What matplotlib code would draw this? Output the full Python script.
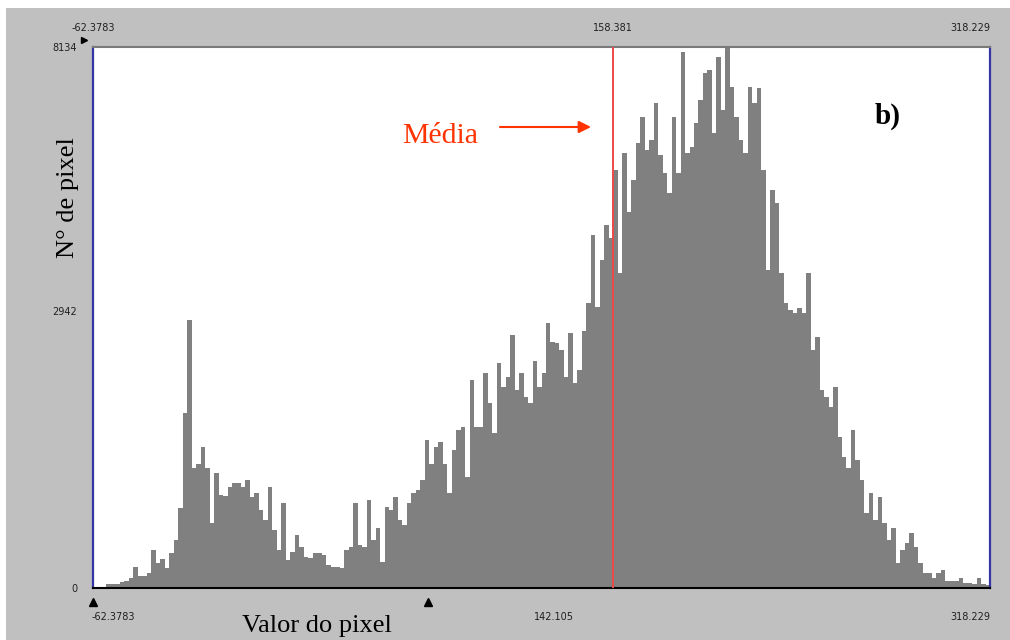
import numpy as np
import matplotlib
matplotlib.use("Agg")
import matplotlib.pyplot as plt
from matplotlib.patches import Rectangle

# ---------------- data ----------------
X_MIN = -62.3783
X_MAX = 318.229
MEAN = 158.381
Y_MAX = 8134
y_ticks = [0, 2942, 8134]
y_tick_labels = ["0", "2942", "8134"]
top_labels = ["-62.3783", "158.381", "318.229"]
bottom_labels = ["-62.3783", "142.105", "318.229"]
bottom_markers = [-62.3783, 79.8]

counts = [
    0, 0, 0, 5, 5, 5, 8, 10, 20, 60,
    25, 25, 35, 142, 75, 96, 53, 128, 206, 445,
    1460, 2790, 826, 870, 1055, 826, 324, 775, 560, 550,
    635, 670, 670, 635, 704, 540, 580, 430, 350, 635,
    275, 142, 488, 90, 135, 240, 160, 105, 100, 128,
    128, 115, 66, 58, 58, 54, 142, 160, 488, 172,
    160, 515, 206, 290, 80, 455, 430, 540, 350, 310,
    488, 580, 605, 704, 1135, 870, 1055, 1110, 870, 580,
    1020, 1250, 1290, 730, 1900, 1290, 1290, 2000, 1590, 1215,
    2145, 1810, 1945, 2565, 1765, 2000, 1670, 1590, 2180, 1810,
    2000, 2750, 2455, 2440, 2335, 1950, 2600, 1860, 2045, 2620,
    3075, 4250, 3000, 3800, 4440, 4200, 5500, 3570, 5840, 4680,
    5300, 6050, 6600, 5900, 6110, 6900, 5800, 5440, 5040, 6600,
    5440, 8020, 5840, 5960, 6470, 6950, 7550, 7610, 6250, 7900,
    6740, 8134, 7240, 6600, 6110, 5840, 7240, 6880, 7220, 5500,
    3630, 5100, 4850, 3570, 3075, 2960, 2905, 2990, 2905, 3570,
    2335, 2530, 1765, 1670, 1545, 1810, 1170, 940, 826, 1250,
    910, 704, 405, 580, 350, 540, 324, 206, 290, 75,
    142, 185, 255, 160, 75, 35, 35, 18, 35, 45,
    10, 10, 12, 18, 7, 7, 5, 20, 5, 3,
]

# ---------------- figure ----------------
W, H = 1010, 640
fig = plt.figure(figsize=(W / 100, H / 100), dpi=100, facecolor="white")
fig.patches.append(Rectangle((6 / W, 0), 1 - 6 / W, (H - 8) / H,
                             transform=fig.transFigure, facecolor="#c0c0c0",
                             edgecolor="none", zorder=-1))

ax = fig.add_axes([93 / W, 52 / H, 897 / W, 541 / H])
ax.set_facecolor("white")

P = 0.658
def forward(v):
    v = np.asarray(v, dtype=float)
    return (np.clip(v, 0, None) / Y_MAX) ** P
def inverse(u):
    u = np.asarray(u, dtype=float)
    return Y_MAX * np.clip(u, 0, None) ** (1 / P)
ax.set_yscale("function", functions=(forward, inverse))

edges = np.linspace(X_MIN, X_MAX, len(counts) + 1)
ax.stairs(counts, edges, fill=True, color="#808080", lw=0)
ax.set_xlim(X_MIN, X_MAX)
ax.set_ylim(0, Y_MAX)

ax.axvline(MEAN, color="#f04848", lw=1.4, zorder=3)

# spines
for s in ("left", "right"):
    ax.spines[s].set_color("#3535a5")
    ax.spines[s].set_linewidth(1.6)
ax.spines["top"].set_color("#7a7a7a")
ax.spines["top"].set_linewidth(1.5)
ax.spines["bottom"].set_color("black")
ax.spines["bottom"].set_linewidth(1.5)

# ticks
ax.set_xticks([])
ax.set_yticks(y_ticks, labels=y_tick_labels)
ax.tick_params(axis="y", length=0, pad=11.5, labelsize=7, labelcolor="#202020")
ax.yaxis.set_minor_locator(matplotlib.ticker.NullLocator())

tick_font = dict(fontsize=7, color="#202020", family="DejaVu Sans")
xt = ax.get_xaxis_transform()
ax.text(top_labels and X_MIN, 1.035, top_labels[0], transform=xt, ha="center", va="center", **tick_font)
ax.text(MEAN, 1.035, top_labels[1], transform=xt, ha="center", va="center", **tick_font)
ax.text(X_MAX, 1.035, top_labels[2], transform=xt, ha="right", va="center", **tick_font)

ax.text(-0.002, -0.054, bottom_labels[0], transform=ax.transAxes, ha="left", va="center", **tick_font)
ax.text(0.514, -0.054, bottom_labels[1], transform=ax.transAxes, ha="center", va="center", **tick_font)
ax.text(1.0, -0.054, bottom_labels[2], transform=ax.transAxes, ha="right", va="center", **tick_font)

ax.plot(bottom_markers, [-0.026] * len(bottom_markers), transform=xt, ls="none",
        marker="^", ms=6, color="black", clip_on=False)
ax.plot([-0.010], [1.013], transform=ax.transAxes, ls="none", marker=">",
        ms=5, color="black", clip_on=False)

def px(x, y):
    return (x / W, 1 - y / H)

serif = ["Liberation Serif", "DejaVu Serif"]
fig.text(*px(402, 143), "Média", color="#ff3300", fontsize=21.5,
         family=serif, ha="left", va="baseline")
ax.annotate("", xy=px(591, 127), xytext=px(500, 127),
            xycoords="figure fraction", textcoords="figure fraction",
            arrowprops=dict(arrowstyle="-|>", color="#ff3300", lw=1.5,
                            mutation_scale=18, shrinkA=0, shrinkB=0))
fig.text(*px(875, 124), "b)", color="black", fontsize=21, fontweight="bold",
         family=serif, ha="left", va="baseline")
fig.text(*px(242, 632), "Valor do pixel", color="black", fontsize=19,
         family=serif, ha="left", va="baseline")
fig.text(*px(68, 198), "N° de pixel", color="black", fontsize=19,
         family=serif, ha="center", va="center", rotation=90)

fig.savefig("out.png", dpi=100, facecolor=fig.get_facecolor())
